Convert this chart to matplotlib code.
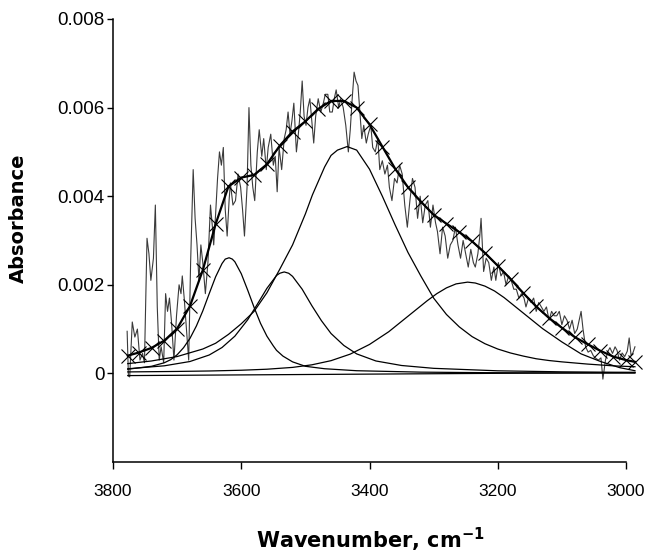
import matplotlib
matplotlib.use("Agg")
import matplotlib.pyplot as plt

# measured spectrum (wavenumber, absorbance)
spec_wn = [3778, 3776, 3774, 3770, 3766, 3762, 3758, 3754, 3751, 3747, 3744, 3741, 3737, 3734,
           3731, 3728, 3725, 3721, 3718, 3715, 3712, 3709, 3705, 3701, 3697, 3694, 3692, 3689,
           3685, 3682, 3679, 3675, 3672, 3669, 3666, 3663, 3660, 3656, 3652, 3648, 3645, 3643,
           3640, 3637, 3634, 3631, 3628, 3625, 3622, 3619, 3617, 3613, 3609, 3605, 3601, 3598,
           3595, 3591, 3588, 3585, 3582, 3579, 3575, 3572, 3568, 3565, 3561, 3558, 3554, 3550,
           3547, 3544, 3541, 3537, 3533, 3530, 3527, 3524, 3521, 3518, 3514, 3511, 3508, 3505,
           3502, 3499, 3496, 3493, 3490, 3487, 3484, 3480, 3476, 3472, 3469, 3465, 3462, 3458,
           3455, 3452, 3448, 3445, 3441, 3437, 3433, 3430, 3427, 3424, 3421, 3418, 3415, 3412,
           3409, 3405, 3402, 3398, 3395, 3391, 3387, 3384, 3380, 3376, 3372, 3369, 3365, 3361,
           3357, 3353, 3349, 3345, 3341, 3337, 3333, 3329, 3325, 3321, 3317, 3313, 3309, 3305,
           3301, 3297, 3294, 3290, 3286, 3282, 3278, 3274, 3270, 3266, 3262, 3258, 3254, 3250,
           3246, 3242, 3238, 3235, 3231, 3228, 3226, 3222, 3218, 3214, 3210, 3206, 3203, 3199,
           3195, 3191, 3187, 3183, 3179, 3175, 3171, 3167, 3163, 3159, 3156, 3152, 3148, 3144,
           3140, 3136, 3132, 3128, 3124, 3120, 3116, 3112, 3108, 3104, 3100, 3096, 3092, 3088,
           3084, 3080, 3076, 3073, 3070, 3067, 3063, 3059, 3055, 3051, 3047, 3043, 3039, 3036,
           3032, 3028, 3025, 3021, 3017, 3014, 3010, 3006, 3002, 2998, 2995, 2992, 2989, 2986]
spec_abs = [0.00095, -0.00006, -0.00008, 0.00116, 0.00082, 0.0010, 0.0003, 0.00045, 0.00024, 0.00305,
            0.0027, 0.0021, 0.0026, 0.0038, 0.0015, 0.0003, 0.0006, 0.00024, 0.0018, 0.0014,
            0.0017, 0.0012, 0.0003, 0.0013, 0.0020, 0.0018, 0.0022, 0.0017, 0.0009, 0.0003,
            0.0025, 0.0046, 0.0035, 0.0029, 0.0021, 0.0029, 0.0025, 0.0018, 0.0025, 0.0038,
            0.0033, 0.0029, 0.0036, 0.0044, 0.0050, 0.0047, 0.0051, 0.0037, 0.0031, 0.0039,
            0.0043, 0.0038, 0.0039, 0.0045, 0.0042, 0.0037, 0.0031, 0.0042, 0.0060, 0.0047,
            0.0042, 0.0039, 0.0050, 0.0055, 0.0049, 0.0053, 0.0046, 0.0051, 0.0054, 0.0047,
            0.0049, 0.0041, 0.0051, 0.0046, 0.0053, 0.0055, 0.0059, 0.0054, 0.0057, 0.0061,
            0.0050, 0.0054, 0.0059, 0.0066, 0.0058, 0.0056, 0.0060, 0.0062, 0.0057, 0.0052,
            0.0058, 0.0062, 0.0059, 0.0061, 0.0063, 0.0063, 0.0059, 0.0059, 0.0062, 0.0064,
            0.0060, 0.0062, 0.0060, 0.0056, 0.0050, 0.0055, 0.0062, 0.0068, 0.0066, 0.0065,
            0.0059, 0.0053, 0.0056, 0.0052, 0.0054, 0.0056, 0.0051, 0.0050, 0.0053, 0.0046,
            0.0048, 0.0045, 0.0047, 0.0042, 0.0039, 0.0044, 0.0043, 0.0047, 0.0045, 0.0038,
            0.0033, 0.0039, 0.0044, 0.0042, 0.0035, 0.0040, 0.0034, 0.0038, 0.0039, 0.0033,
            0.0038, 0.0034, 0.0032, 0.0027, 0.0033, 0.0031, 0.0026, 0.0029, 0.0030, 0.0033,
            0.0029, 0.0026, 0.0030, 0.0027, 0.0024, 0.0028, 0.0025, 0.0024, 0.0027, 0.0031,
            0.0035, 0.0023, 0.0026, 0.0025, 0.0021, 0.0024, 0.0021, 0.0025, 0.0022, 0.0023,
            0.0020, 0.0022, 0.0021, 0.0019, 0.0019, 0.0017, 0.0018, 0.0017, 0.0015, 0.0017,
            0.0016, 0.0017, 0.0014, 0.0016, 0.0015, 0.0014, 0.0015, 0.0012, 0.0014, 0.0013,
            0.0013, 0.0014, 0.0011, 0.0013, 0.0012, 0.0010, 0.0012, 0.0009, 0.0010, 0.0012,
            0.0014, 0.0010, 0.0006, 0.00048, 0.00052, 0.0004, 0.00034, 0.0003, 0.00035, -0.00013,
            0.0003, 0.0005, 0.00058, 0.00045, 0.0006, 0.00052, 0.0003, 0.00046, 0.00038, 0.0005,
            0.0008, 0.0004, 0.00047, 0.0006]

# fitted band components
a_wn = [3777, 3740, 3720, 3710, 3700, 3690, 3680, 3670, 3660, 3650, 3640, 3630, 3625, 3619,
        3614, 3610, 3600, 3590, 3580, 3570, 3560, 3550, 3545, 3535, 3520, 3500, 3470, 3420,
        3320, 3220, 3120, 2986]
a_abs = [0.000094, 0.00016, 0.00024, 0.00031, 0.00042, 0.00058, 0.00079, 0.00107, 0.00141,
         0.00180, 0.00218, 0.00248, 0.00258, 0.00261, 0.00258, 0.00252, 0.00225, 0.00188,
         0.00149, 0.00113, 0.00084, 0.00062, 0.00052, 0.00039, 0.00026, 0.00016, 0.000105,
         0.00006, 0.000028, 0.000016, 0.00001, 0.000006]

b_wn = [3777, 3720, 3680, 3650, 3630, 3610, 3590, 3575, 3560, 3545, 3540, 3533, 3526, 3520,
        3505, 3490, 3475, 3460, 3440, 3420, 3390, 3350, 3300, 3200, 3100, 2986]
b_abs = [0.000104, 0.000171, 0.000268, 0.000415, 0.000584, 0.00084, 0.00121, 0.00156, 0.00192,
         0.00221, 0.00226, 0.00229, 0.00226, 0.00219, 0.0019, 0.00153, 0.00119, 0.0009, 0.00063,
         0.00044, 0.00028, 0.000178, 0.000114, 0.000058, 0.000035, 0.000022]

c_wn = [3777, 3740, 3700, 3660, 3640, 3620, 3600, 3580, 3560, 3540, 3520, 3500, 3489, 3470,
        3460, 3450, 3435, 3420, 3400, 3380, 3360, 3340, 3320, 3300, 3280, 3260, 3240, 3220,
        3200, 3180, 3160, 3140, 3120, 3100, 3060, 3020, 2986]
c_abs = [0.00022, 0.00028, 0.00038, 0.00055, 0.00068, 0.00088, 0.00112, 0.0014, 0.00182, 0.00235,
         0.0029, 0.0036, 0.00403, 0.00466, 0.00492, 0.00504, 0.00512, 0.00504, 0.00461, 0.0040,
         0.00335, 0.00273, 0.0022, 0.0017, 0.00133, 0.00105, 0.00083, 0.00067, 0.00055, 0.00046,
         0.00039, 0.00033, 0.00029, 0.00026, 0.00021, 0.00017, 0.00015]

d_wn = [3777, 3700, 3650, 3600, 3560, 3520, 3490, 3460, 3430, 3400, 3370, 3340, 3310, 3295,
        3280, 3265, 3247, 3235, 3220, 3205, 3190, 3160, 3130, 3100, 3070, 3040, 3010, 2986]
d_abs = [0.000033, 0.000044, 0.000054, 0.000071, 0.000094, 0.000135, 0.000193, 0.000287,
         0.000435, 0.000653, 0.00094, 0.00129, 0.00164, 0.0018, 0.00193, 0.00202, 0.00206,
         0.00204, 0.00197, 0.00186, 0.00171, 0.00136, 0.00101, 0.00071, 0.00044, 0.00027,
         0.00013, 0.00006]

base_wn = [3777, 2986]
base_abs = [-0.00005, 0.00002]

# total fit (shown with x markers)
fit_wn = [3777, 3760, 3740, 3720, 3700, 3680, 3660, 3640, 3620, 3600, 3580, 3560, 3540, 3520,
          3500, 3480, 3460, 3440, 3420, 3400, 3380, 3360, 3340, 3320, 3300, 3280, 3260, 3240,
          3220, 3200, 3180, 3160, 3140, 3120, 3100, 3080, 3060, 3040, 3020, 3000, 2986]
fit_abs = [0.0004, 0.00047, 0.000575, 0.00074, 0.00101, 0.00152, 0.00233, 0.00337, 0.00422,
           0.00442, 0.00448, 0.00472, 0.00514, 0.00546, 0.00569, 0.00597, 0.00615, 0.00615,
           0.00600, 0.00562, 0.00512, 0.00462, 0.0042, 0.00388, 0.00358, 0.00338, 0.00319,
           0.00298, 0.00272, 0.00243, 0.00213, 0.00181, 0.00151, 0.00125, 0.00103, 0.00082,
           0.00066, 0.00051, 0.00038, 0.0003, 0.00026]

x_ticks = [3800, 3600, 3400, 3200, 3000]
y_ticks = [0, 0.002, 0.004, 0.006, 0.008]
y_ticklabels = ["0", "0.002", "0.004", "0.006", "0.008"]

plt.rcParams["font.family"] = ["Liberation Sans", "DejaVu Sans"]

fig = plt.figure(figsize=(6.47, 5.57), dpi=100)
ax = fig.add_axes([0.1747, 0.1706, 0.7928, 0.7953])

ax.plot(spec_wn, spec_abs, color="#3a3a3a", lw=0.8, clip_on=False, zorder=2)
for wn, ab in [(a_wn, a_abs), (b_wn, b_abs), (c_wn, c_abs), (d_wn, d_abs), (base_wn, base_abs)]:
    ax.plot(wn, ab, color="black", lw=0.9, clip_on=False, zorder=3)
ax.plot(fit_wn, fit_abs, color="black", lw=1.6, marker="x", markersize=10,
        markeredgewidth=0.8, clip_on=False, zorder=4)

ax.set_xlim(3800, 3000)
ax.set_ylim(-0.002, 0.008)
ax.set_xticks(x_ticks)
ax.set_xticklabels([str(t) for t in x_ticks], fontsize=12.5)
ax.set_yticks(y_ticks)
ax.set_yticklabels(y_ticklabels, fontsize=13.5)
ax.tick_params(axis="x", direction="out", length=5, width=1, pad=11)
ax.tick_params(axis="y", direction="out", length=4, width=1, pad=2)

ax.spines["top"].set_visible(False)
ax.spines["right"].set_visible(False)
ax.spines["left"].set_linewidth(1.1)
ax.spines["bottom"].set_linewidth(1.1)

ax.set_ylabel("Absorbance", fontsize=14, fontweight="bold", family="DejaVu Sans")
ax.yaxis.set_label_coords(-0.165, 0.55)
fig.text(0.572, 0.006, "Wavenumber, cm$^{\\mathbf{-1}}$", fontsize=15, fontweight="bold",
         ha="center", va="bottom", family="DejaVu Sans")

fig.savefig("out.png", dpi=100)
